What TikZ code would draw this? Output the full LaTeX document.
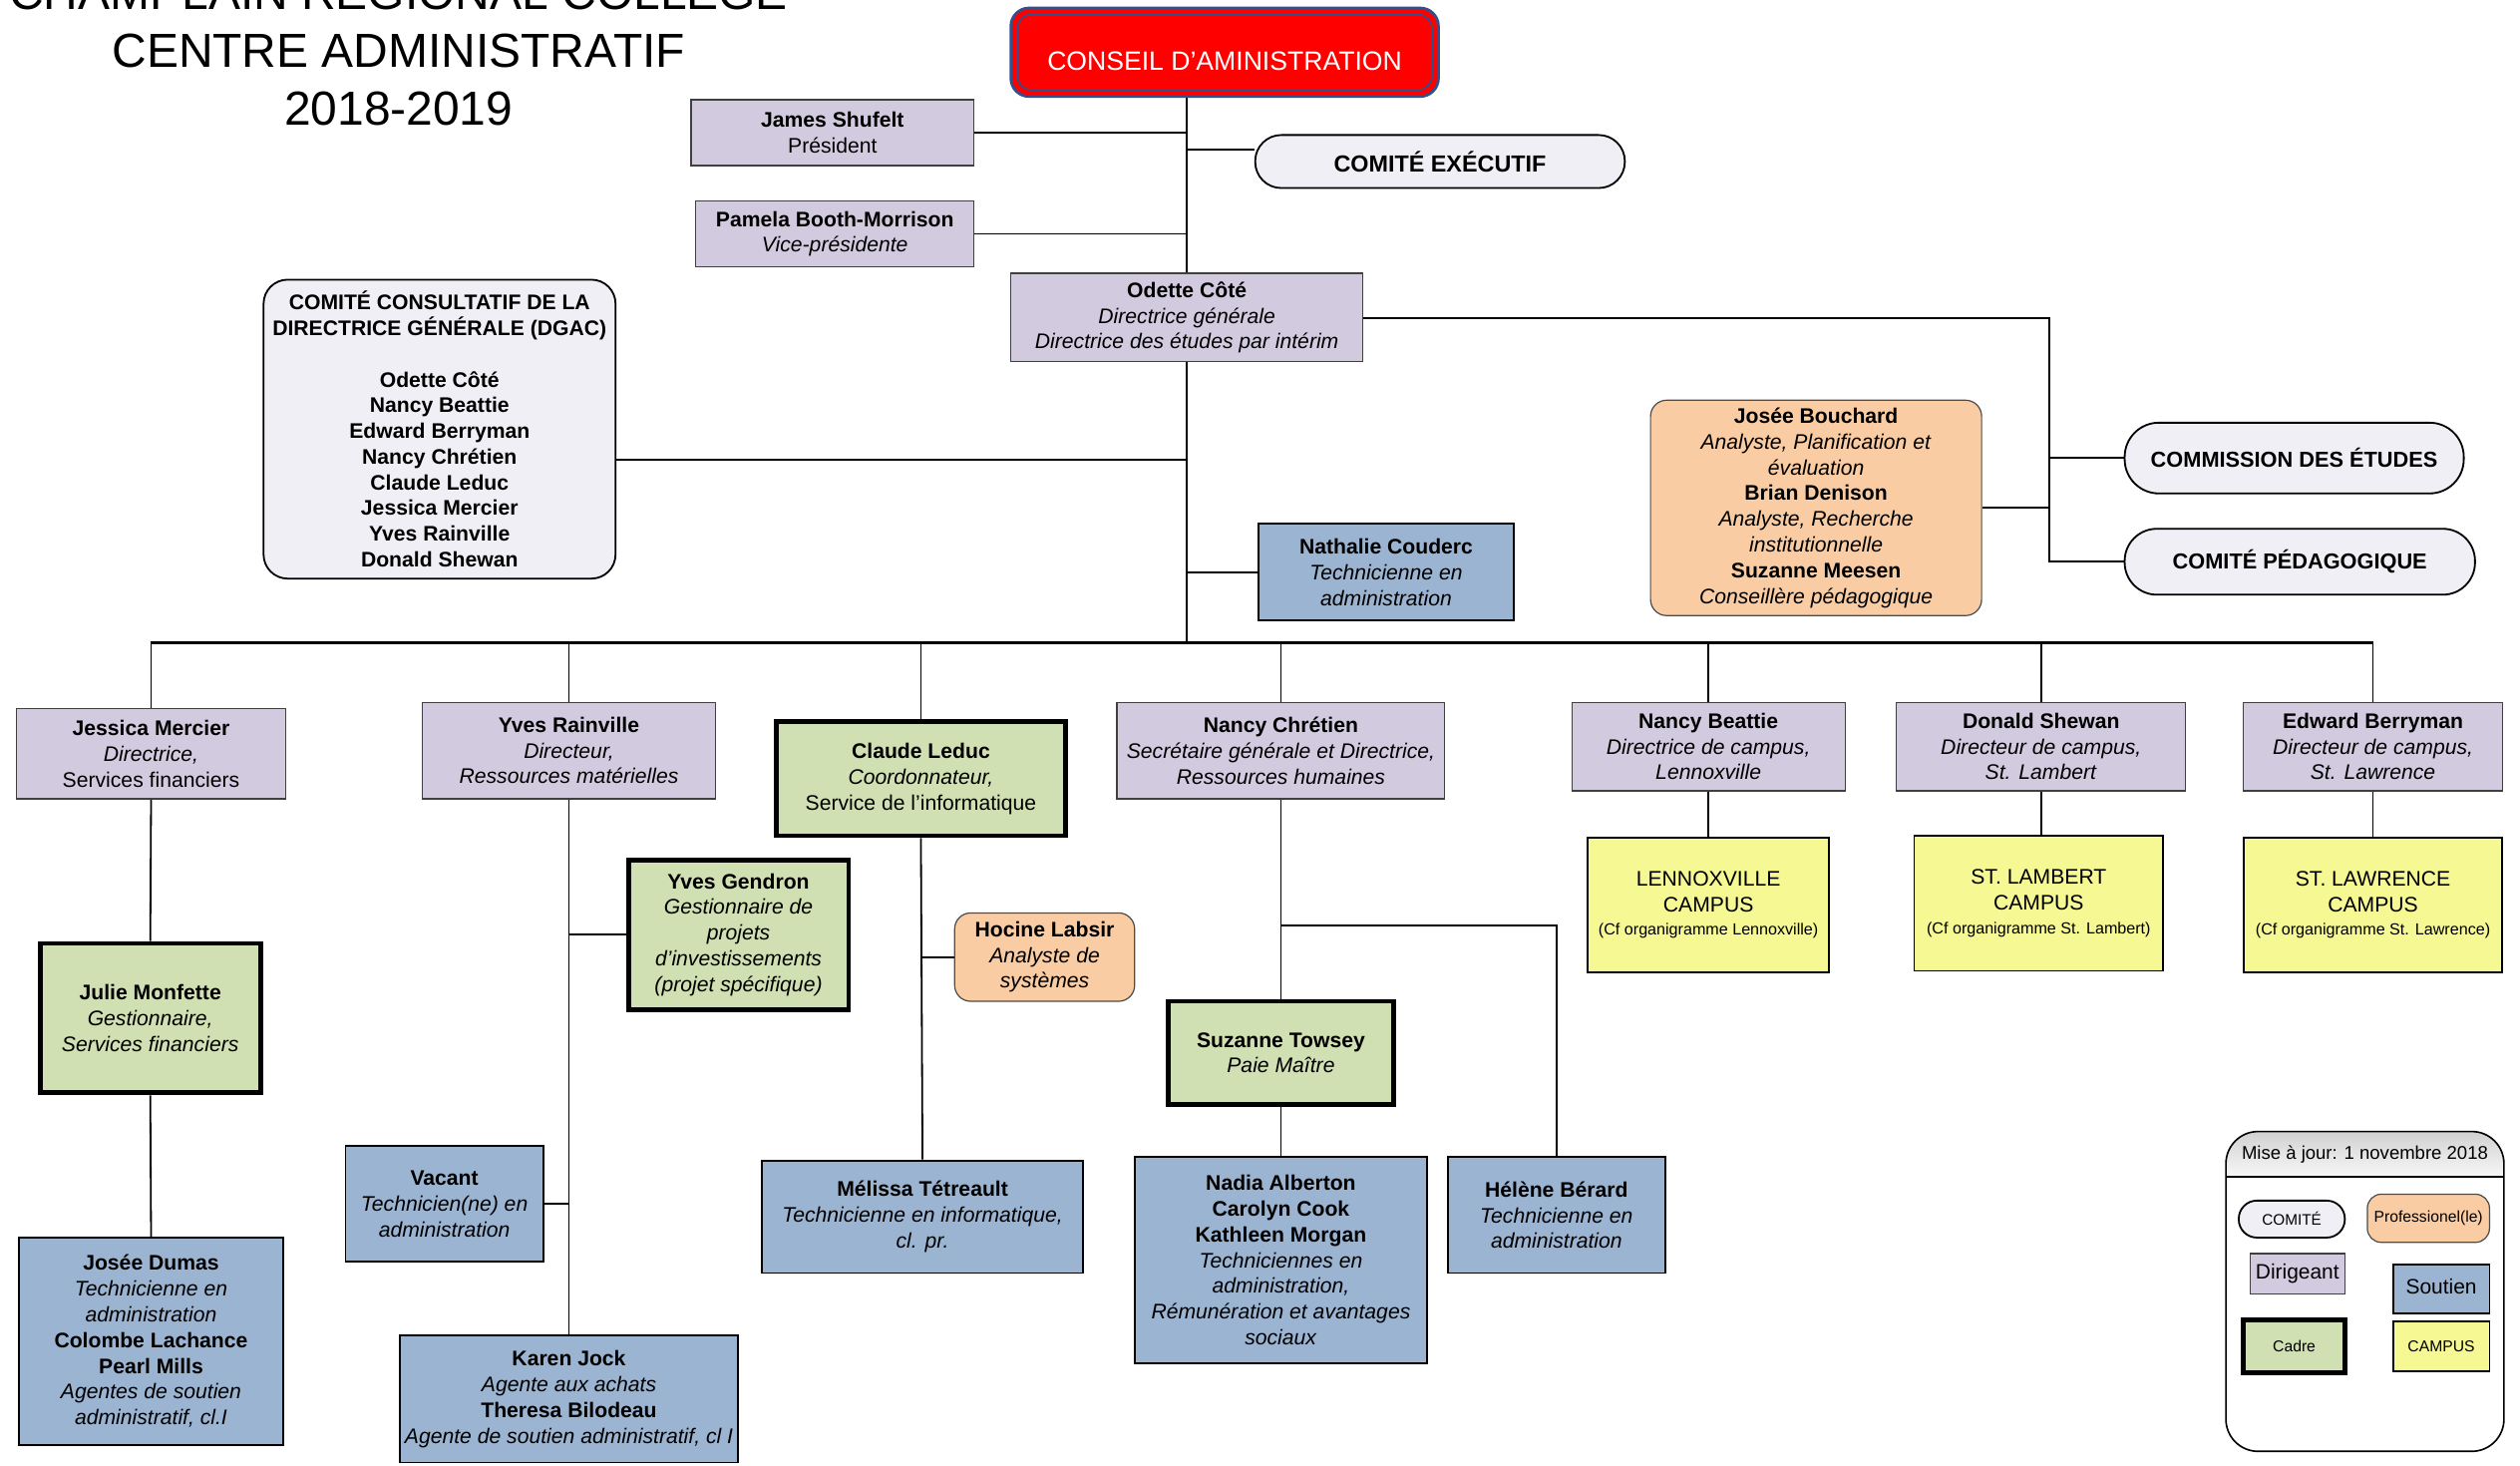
\documentclass[tikz,border=0pt]{standalone}
\usepackage{fontspec}
\setmainfont{Liberation Sans}
\definecolor{lav}{HTML}{D2CBE0}
\definecolor{soutienc}{HTML}{9BB4D2}
\definecolor{cadrec}{HTML}{D0E0B2}
\definecolor{campusc}{HTML}{F6F894}
\definecolor{profc}{HTML}{FACCA3}
\definecolor{comc}{HTML}{F0EFF5}
\definecolor{navy}{HTML}{34508C}
\pgfdeclarelayer{bg}
\pgfsetlayers{bg,main}
\tikzset{
  bb/.style n args={4}{at={({(#1+#3)/2},{(#2+#4)/2})}, anchor=center,
     minimum width={(#3-#1)*0.8pt}, minimum height={(#4-#2)*0.8pt}},
  base/.style={inner sep=0pt, align=center, font=\fontsize{10.5}{12.8}\selectfont},
  dir/.style={base, draw=black!75, line width=0.6pt, fill=lav},
  sout/.style={base, draw=black, line width=0.9pt, fill=soutienc},
  cadre/.style={base, draw=black, line width=2.4pt, fill=cadrec},
  campus/.style={base, draw=black, line width=0.9pt, fill=campusc},
  prof/.style={base, draw=black!70, line width=0.6pt, fill=profc, rounded corners=8pt},
  comite/.style={base, draw=black, line width=0.9pt, fill=comc},
  conn/.style={line width=0.9pt, draw=black},
  trunk/.style={line width=1.2pt, draw=black},
  titlef/.style={inner sep=0pt, anchor=base, font=\fontsize{23.8}{28}\selectfont},
}
\begin{document}
\begin{tikzpicture}[x={(0.8pt,0)}, y={(0,-0.8pt)}]
\useasboundingbox (0,0) rectangle (1568,912);
% Title
\node[titlef] (t1) at (248,6) {CHAMPLAIN REGIONAL COLLEGE};
\node[titlef] (t2) at (248,42) {CENTRE ADMINISTRATIF};
\node[titlef] (t3) at (248,78) {2018-2019};

% Conseil
\node[base, fill=red, draw=navy, line width=1.4pt, rounded corners=9pt, bb={629}{5}{895}{60}] (conseil) {};
\draw[navy, line width=0.8pt, rounded corners=7pt] (633,9) rectangle (891,56);
\node[font=\fontsize{13.2}{15}\selectfont, text=white, inner sep=0pt] (conseilt) at (762,38) {CONSEIL D’AMINISTRATION};

\node[dir, bb={430}{62}{606}{103}] (james) {\textbf{James Shufelt}\\Président};
\node[comite, rounded corners=13pt, bb={781}{84}{1011}{117}, font=\fontsize{11.6}{13}\selectfont\bfseries] (cexec) {COMITÉ EXÉCUTIF};
\node[dir, bb={433}{125}{606}{166}] (pamela) {\textbf{Pamela Booth-Morrison}\\\textit{Vice-présidente}};
\node[dir, bb={629}{170}{848}{225}] (odette) {\textbf{Odette Côté}\\\textit{Directrice générale}\\\textit{Directrice des études par intérim}};

\node[comite, rounded corners=12pt, bb={164}{174}{383}{360}] (dgac) {\textbf{COMITÉ CONSULTATIF DE LA}\\\textbf{DIRECTRICE GÉNÉRALE (DGAC)}\\[12.8pt]\textbf{Odette Côté}\\\textbf{Nancy Beattie}\\\textbf{Edward Berryman}\\\textbf{Nancy Chrétien}\\\textbf{Claude Leduc}\\\textbf{Jessica Mercier}\\\textbf{Yves Rainville}\\\textbf{Donald Shewan}};

\node[prof, bb={1027}{249}{1233}{383}] (bouchard) {\textbf{Josée Bouchard}\\\textit{Analyste, Planification et}\\\textit{évaluation}\\\textbf{Brian Denison}\\\textit{Analyste, Recherche}\\\textit{institutionnelle}\\\textbf{Suzanne Meesen}\\\textit{Conseillère pédagogique}};
\node[comite, rounded corners=17pt, bb={1322}{263}{1533}{307}, font=\fontsize{10.8}{13}\selectfont\bfseries] (cet) {COMMISSION DES ÉTUDES};
\node[comite, rounded corners=16pt, bb={1322}{329}{1540}{370}, font=\fontsize{10.8}{13}\selectfont\bfseries] (cped) {COMITÉ PÉDAGOGIQUE};

\node[sout, bb={783}{326}{942}{386}] (nathalie) {\textbf{Nathalie Couderc}\\\textit{Technicienne en}\\\textit{administration}};

% Second level
\node[dir, bb={10}{441}{178}{497}] (jm) {\textbf{Jessica Mercier}\\\textit{Directrice,}\\Services financiers};
\node[dir, bb={263}{437}{445}{497}] (yr) {\textbf{Yves Rainville}\\\textit{Directeur,}\\\textit{Ressources matérielles}};
\node[cadre, bb={483}{449}{663}{520}] (cl) {\textbf{Claude Leduc}\\\textit{Coordonnateur,}\\Service de l’informatique};
\node[dir, bb={695}{437}{899}{497}] (nc) {\textbf{Nancy Chrétien}\\\textit{Secrétaire générale et Directrice,}\\\textit{Ressources humaines}};
\node[dir, bb={978}{437}{1148}{492}] (nb) {\textbf{Nancy Beattie}\\\textit{Directrice de campus,}\\\textit{Lennoxville}};
\node[dir, bb={1180}{437}{1360}{492}] (ds) {\textbf{Donald Shewan}\\\textit{Directeur de campus,}\\\textit{St. Lambert}};
\node[dir, bb={1396}{437}{1557}{492}] (eb) {\textbf{Edward Berryman}\\\textit{Directeur de campus,}\\\textit{St. Lawrence}};

% Campuses
\node[campus, bb={988}{521}{1138}{605}] (lenn) {LENNOXVILLE\\CAMPUS\\[-1pt]{\fontsize{8}{10}\selectfont (Cf organigramme Lennoxville)}};
\node[campus, bb={1191}{520}{1346}{604}] (lamb) {ST. LAMBERT\\CAMPUS\\[-1pt]{\fontsize{8}{10}\selectfont (Cf organigramme St. Lambert)}};
\node[campus, bb={1396}{521}{1557}{605}] (law) {ST. LAWRENCE\\CAMPUS\\[-1pt]{\fontsize{8}{10}\selectfont (Cf organigramme St. Lawrence)}};

% Lower levels
\node[cadre, bb={25}{587}{162}{680}] (julie) {\textbf{Julie Monfette}\\\textit{Gestionnaire,}\\\textit{Services financiers}};
\node[sout, bb={12}{770}{176}{899}] (dumas) {\textbf{Josée Dumas}\\\textit{Technicienne en}\\\textit{administration}\\\textbf{Colombe Lachance}\\\textbf{Pearl Mills}\\\textit{Agentes de soutien}\\\textit{administratif, cl.I}};

\node[cadre, bb={391}{535}{528}{628}] (gendron) {\textbf{Yves Gendron}\\\textit{Gestionnaire de}\\\textit{projets}\\\textit{d’investissements}\\\textit{(projet spécifique)}};
\node[sout, bb={215}{713}{338}{785}] (vacant) {\textbf{Vacant}\\\textit{Technicien(ne) en}\\\textit{administration}};
\node[sout, bb={249}{831}{459}{910}] (karen) {\textbf{Karen Jock}\\\textit{Agente aux achats}\\\textbf{Theresa Bilodeau}\\\textit{Agente de soutien administratif, cl I}};

\node[prof, bb={594}{568}{706}{623}] (hocine) {\textbf{Hocine Labsir}\\\textit{Analyste de}\\\textit{systèmes}};
\node[sout, bb={474}{722}{674}{792}] (melissa) {\textbf{Mélissa Tétreault}\\\textit{Technicienne en informatique,}\\\textit{cl. pr.}};

\node[cadre, bb={727}{623}{867}{687}] (suzanne) {\textbf{Suzanne Towsey}\\\textit{Paie Maître}};
\node[sout, bb={706}{720}{888}{848}] (nadia) {\textbf{Nadia Alberton}\\\textbf{Carolyn Cook}\\\textbf{Kathleen Morgan}\\\textit{Techniciennes en}\\\textit{administration,}\\\textit{Rémunération et avantages}\\\textit{sociaux}};
\node[sout, bb={901}{720}{1036}{792}] (helene) {\textbf{Hélène Bérard}\\\textit{Technicienne en}\\\textit{administration}};

% Legend
\begin{scope}
  \clip[rounded corners=16pt] (1385,704) rectangle (1558,903);
  \shade[top color=black!18, bottom color=black!3] (1385,704) rectangle (1558,732);
\end{scope}
\draw[line width=0.8pt, rounded corners=16pt] (1385,704) rectangle (1558,903);
\draw[line width=0.8pt] (1385,732) -- (1558,732);
\node[inner sep=0pt, font=\fontsize{9.2}{11}\selectfont] (maj) at (1471.5,718) {Mise à jour: 1 novembre 2018};
\node[comite, rounded corners=9pt, bb={1393}{747}{1459}{770}, font=\fontsize{7.6}{9}\selectfont] (lgcom) {COMITÉ};
\node[prof, rounded corners=7pt, bb={1473}{743}{1549}{773}, font=\fontsize{7.8}{9}\selectfont] (lgprof) {Professionel(le)};
\node[dir, bb={1400}{780}{1459}{805}, font=\fontsize{10.4}{12}\selectfont] (lgdir) {Dirigeant};
\node[sout, bb={1489}{787}{1549}{817}, font=\fontsize{10.4}{12}\selectfont] (lgsout) {\raisebox{3pt}{Soutien}};
\node[cadre, bb={1396}{821}{1459}{854}, font=\fontsize{7.8}{9}\selectfont] (lgcadre) {Cadre};
\node[campus, bb={1489}{822}{1549}{853}, font=\fontsize{7.8}{9}\selectfont] (lgcampus) {CAMPUS};

% Connectors
\begin{pgfonlayer}{bg}
\draw[trunk] (odette.north) -- (odette.north |- conseil.south);
\draw[conn] (james.east) -- (james.east -| odette.north);
\draw[conn] (pamela.east) -- (pamela.east -| odette.north);
\draw[conn] (odette.north |- 0,93) -- (cexec.west |- 0,93);
\coordinate (busl) at (jm.north |- 0,400);
\coordinate (busr) at (eb.north |- 0,400);
\coordinate (busm) at (odette.south |- 0,400);
\draw[trunk] (odette.south) -- (busm);
\draw[conn] (dgac.east |- 0,286) -- (odette.south |- 0,286);
\draw[conn] (nathalie.west) -- (nathalie.west -| odette.south);
\coordinate (cr) at (1275,198);
\draw[conn] (odette.east |- cr) -- (cr) -- (cr |- cped.west) -- (cped.west);
\draw[conn] (cr |- cet.west) -- (cet.west);
\draw[conn] (bouchard.east) -- (bouchard.east -| cr);
\draw[trunk] (busl) -- (busr);
\foreach \n in {jm,yr,cl,nc,nb,ds,eb}{\draw[conn] (\n.north) -- (\n.north |- busm);}
\draw[conn] (nb.south) -- (lenn.north);
\draw[conn] (ds.south) -- (ds.south |- lamb.north);
\draw[conn] (eb.south) -- (law.north);
\draw[conn] (jm.south) -- (julie.north);
\draw[conn] (julie.south) -- (dumas.north);
\draw[conn] (yr.south) -- (karen.north);
\draw[conn] (gendron.west) -- (gendron.west -| yr.south);
\draw[conn] (vacant.east) -- (vacant.east -| yr.south);
\draw[conn] (cl.south) -- (melissa.north);
\draw[conn] (hocine.west) -- (hocine.west -| cl.south);
\draw[conn] (nc.south) -- (suzanne.north);
\draw[conn] (suzanne.south) -- (nadia.north);
\draw[conn] (nc.south |- 0,576) -- (helene.north |- 0,576) -- (helene.north);
\end{pgfonlayer}
\end{tikzpicture}
\end{document}
